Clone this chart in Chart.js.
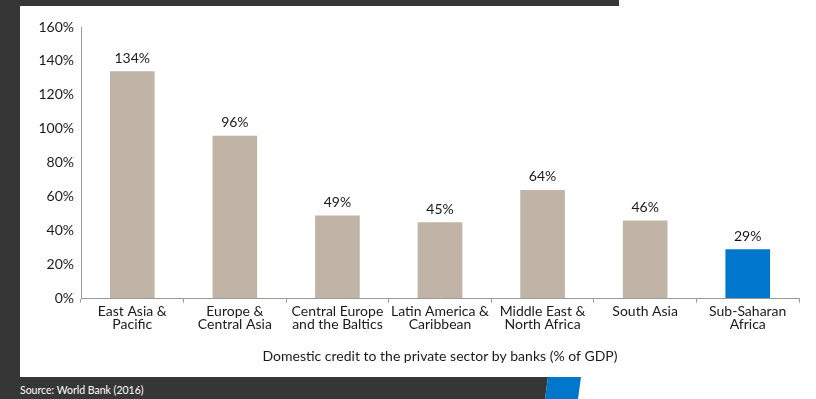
<!DOCTYPE html>
<html>
<head>
<meta charset="utf-8">
<script src="https://cdn.jsdelivr.net/npm/chart.js@4.4.1/dist/chart.umd.min.js"></script>
<style>
  body { margin: 0; background: #fff; }
  #frame { position: relative; width: 816px; height: 399px; background: #fff; overflow: hidden; }
  .dark { position: absolute; background: #363636; }
  #darkLeft { left: 0; top: 0; width: 20px; height: 399px; }
  #darkTop { left: 0; top: 0; width: 619px; height: 6px; }
  #darkBottom { left: 0; top: 377px; width: 548px; height: 22px; clip-path: polygon(0 0, 548px 0, 545px 22px, 0 22px); }
  #blueTab { position: absolute; left: 545px; top: 377px; width: 36px; height: 22px; background: #0077cc;
             clip-path: polygon(3px 0, 36px 0, 33px 22px, 0 22px); }
  #source { position: absolute; left: 20px; top: 384px; font: 10.5px Lato, sans-serif; color: #fff; }
  #wrap { position: absolute; left: 20px; top: 6px; width: 796px; height: 371px; }
</style>
</head>
<body>
<div id="frame">
  <div class="dark" id="darkLeft"></div>
  <div class="dark" id="darkTop"></div>
  <div class="dark" id="darkBottom"></div>
  <div id="blueTab"></div>
  <div id="source">Source: World Bank (2016)</div>
  <div id="wrap"><canvas id="creditChart"></canvas></div>
</div>
<script>
// Data
const regions = [
  ['East Asia &', 'Pacific'],
  ['Europe &', 'Central Asia'],
  ['Central Europe', 'and the Baltics'],
  ['Latin America &', 'Caribbean'],
  ['Middle East &', 'North Africa'],
  ['South Asia'],
  ['Sub-Saharan', 'Africa']
];
const creditPct = [134, 96, 49, 45, 64, 46, 29];
const highlightRegion = 'Sub-Saharan';
const axisTitle = 'Domestic credit to the private sector by banks (% of GDP)';

const TAN = '#bfb4a5';
const BLUE = '#0077cc';
const TEXT = '#1a1a1a';

// value labels above each bar
const barValueLabels = {
  id: 'barValueLabels',
  afterDatasetsDraw(chart) {
    const ctx = chart.ctx;
    const meta = chart.getDatasetMeta(0);
    ctx.save();
    ctx.font = '14px Lato, sans-serif';
    ctx.fillStyle = TEXT;
    ctx.textAlign = 'center';
    ctx.textBaseline = 'bottom';
    meta.data.forEach((bar, i) => {
      ctx.fillText(creditPct[i] + '%', bar.x, bar.y - 6);
    });
    ctx.restore();
  }
};

const ctxCredit = document.getElementById('creditChart').getContext('2d');
const creditChart = new Chart(ctxCredit, {
  type: 'bar',
  data: {
    labels: regions,
    datasets: [{
      data: creditPct,
      backgroundColor: ctx => regions[ctx.dataIndex][0] === highlightRegion ? BLUE : TAN,
      borderWidth: 0,
      barPercentage: 0.435,
      categoryPercentage: 1
    }]
  },
  options: {
    responsive: true,
    maintainAspectRatio: false,
    animation: false,
    layout: { padding: { top: 21, right: 17, left: 0, bottom: 0 } },
    plugins: {
      legend: { display: false },
      tooltip: { enabled: false }
    },
    scales: {
      x: {
        grid: { drawOnChartArea: false, tickLength: 4, color: '#9a9a9a', offset: true },
        border: { color: '#9a9a9a' },
        ticks: {
          color: TEXT,
          padding: 2,
          maxRotation: 0,
          autoSkip: false,
          font: { family: 'Lato', size: 14, lineHeight: 0.95 }
        },
        title: {
          display: true,
          text: axisTitle,
          color: TEXT,
          font: { family: 'Lato', size: 14 },
          padding: { top: 15, bottom: 12 }
        }
      },
      y: {
        min: 0,
        max: 160,
        ticks: {
          stepSize: 20,
          color: TEXT,
          padding: 7,
          font: { family: 'Lato', size: 14 },
          callback: v => v + '%'
        },
        grid: { drawOnChartArea: false, drawTicks: false },
        border: { color: '#9a9a9a' },
        afterFit: scale => { scale.width = 61; }
      }
    }
  },
  plugins: [barValueLabels]
});
</script>
</body>
</html>
